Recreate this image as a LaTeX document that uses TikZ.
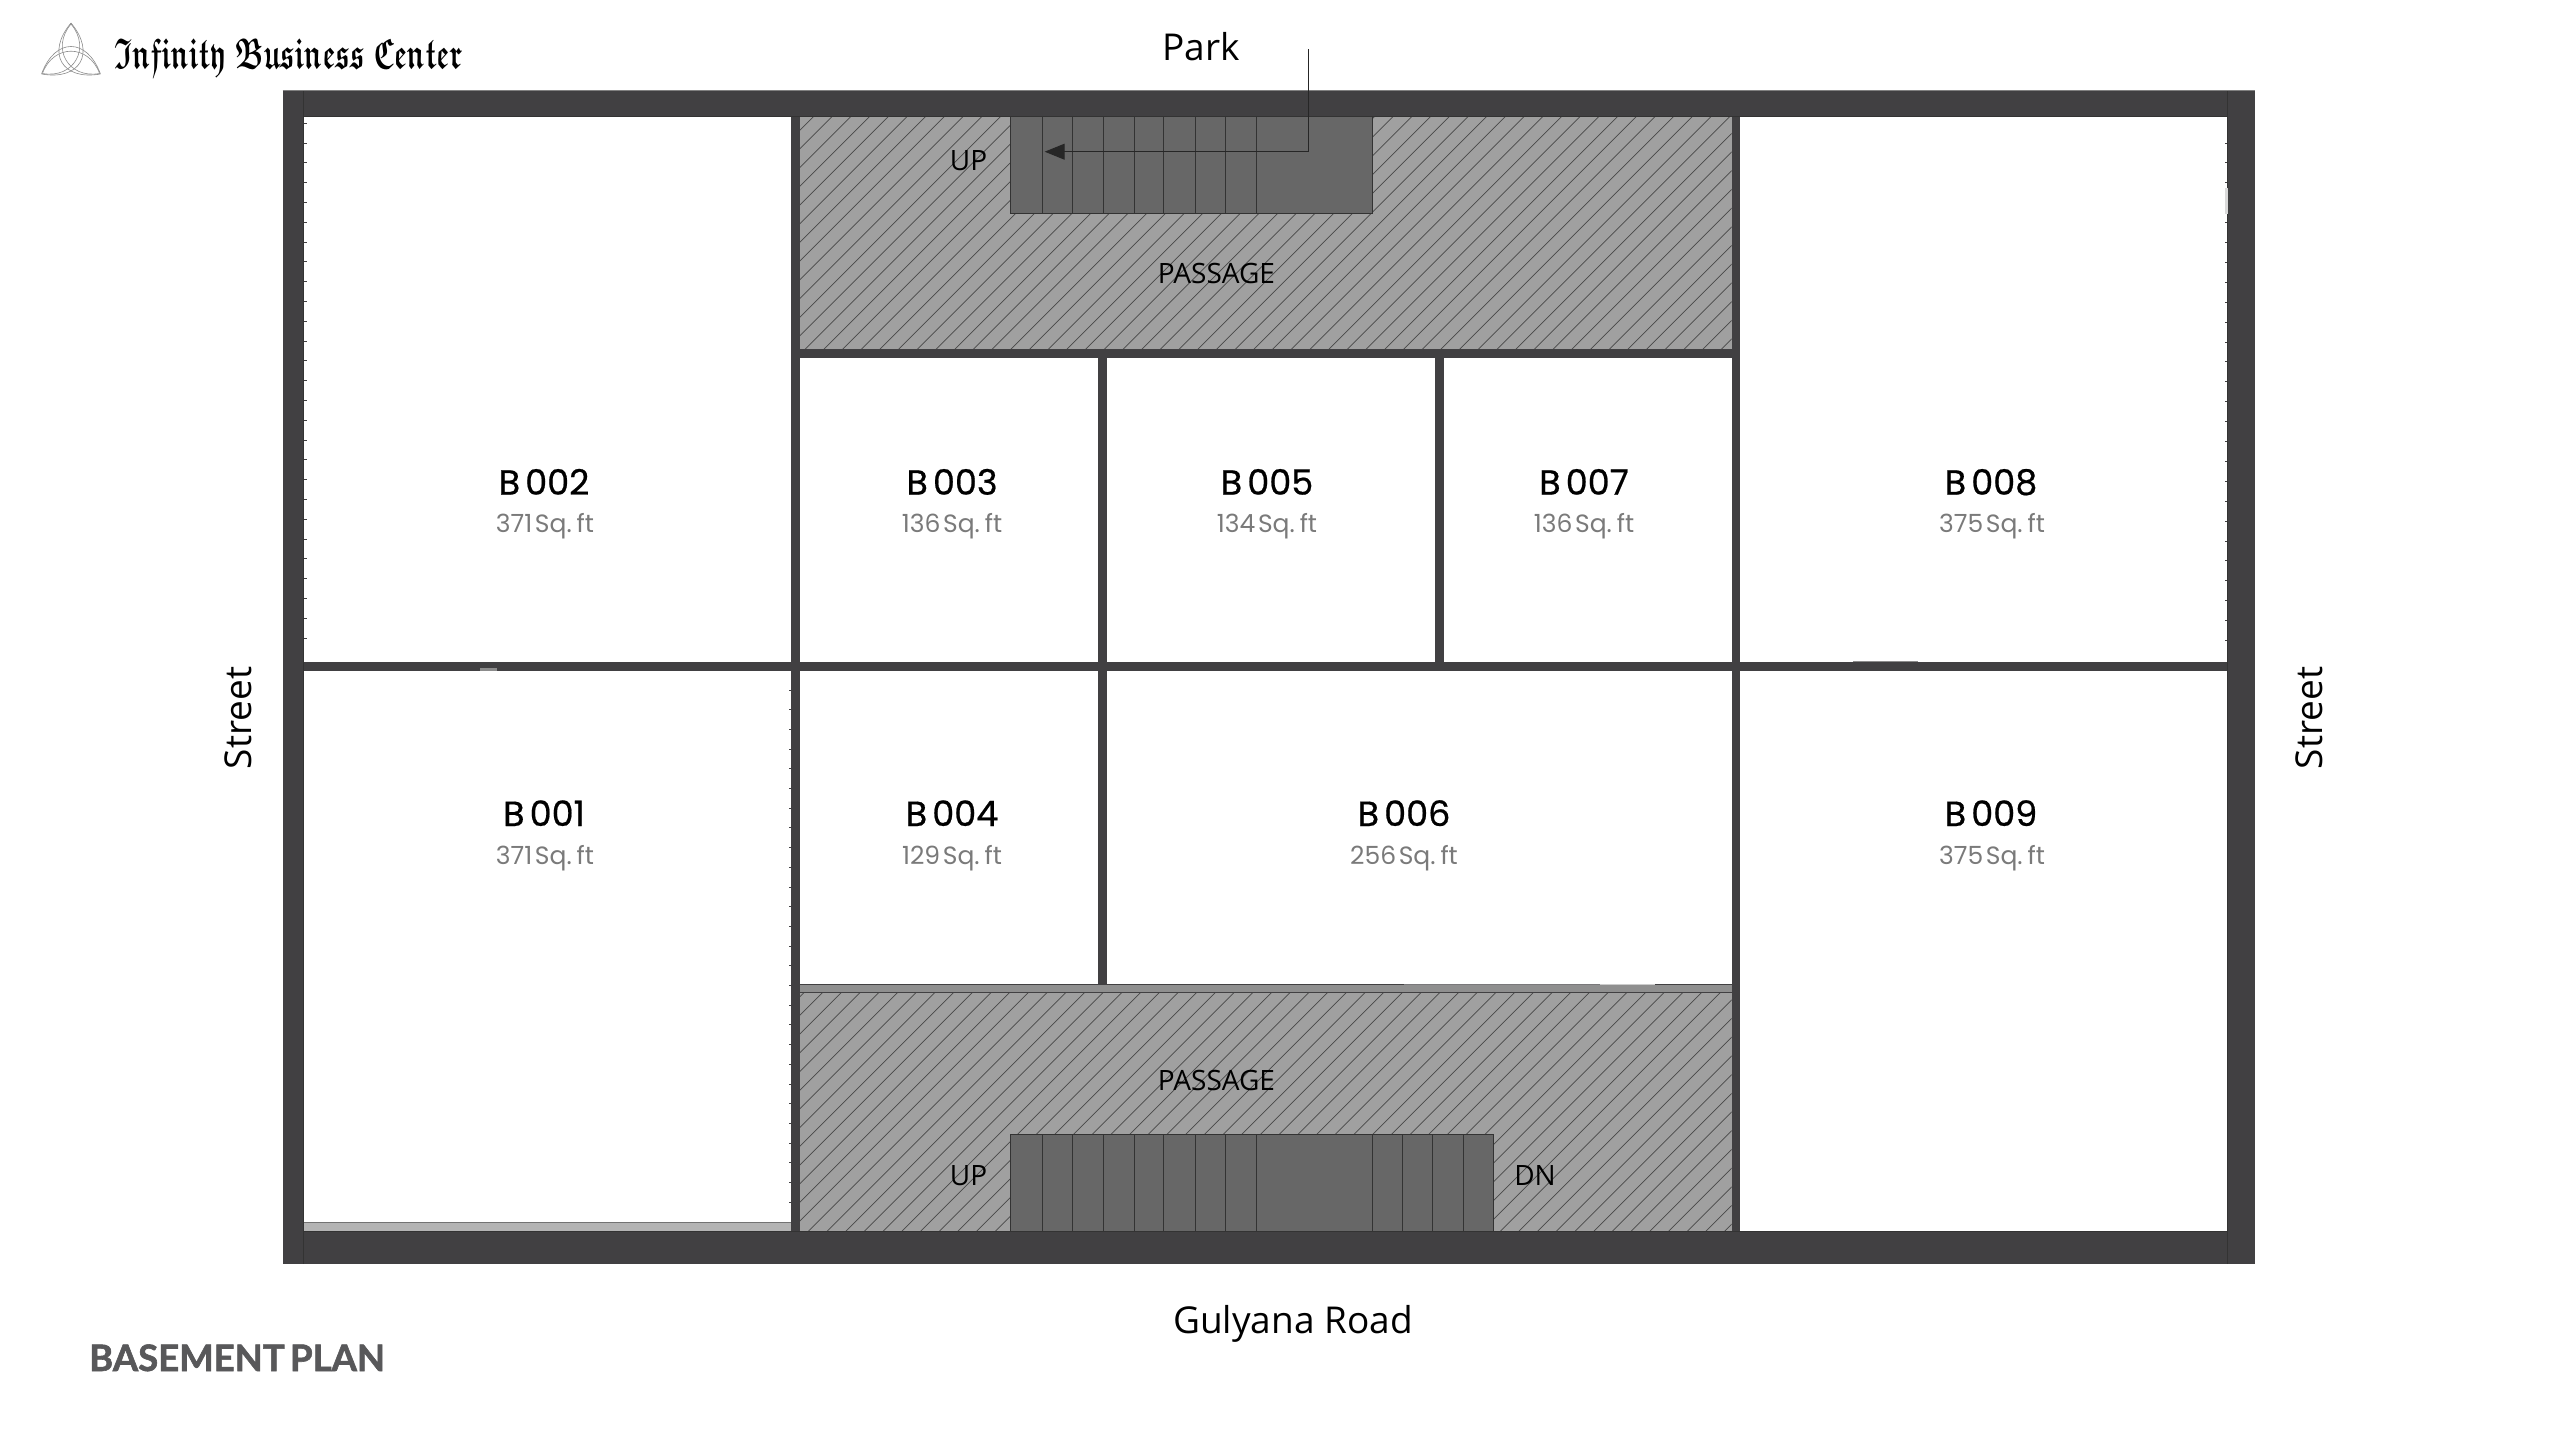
\documentclass[tikz,border=0pt]{standalone}
\usepackage{amsfonts}
\usepackage{fontspec}
\usepackage{graphicx}
\usetikzlibrary{arrows.meta}
\setmainfont{Open Sans}
\newfontfamily\roomfont[FakeBold=0.6,WordSpace=0.55]{Poppins}
\newfontfamily\areafont[WordSpace=0.4]{Poppins}
\newfontfamily\titlefont[FakeBold=1.6,WordSpace=0.6]{Lato}
\definecolor{wall}{HTML}{414042}
\definecolor{stair}{HTML}{676767}
\definecolor{passfill}{HTML}{A0A0A0}
\definecolor{hatchc}{HTML}{484848}
\definecolor{strip}{HTML}{8F8F8F}
\definecolor{lightstrip}{HTML}{B4B4B4}
\definecolor{sqft}{HTML}{7A7A7A}
\definecolor{titlec}{HTML}{58585A}
\definecolor{logoc}{HTML}{8C8C8C}
\tikzset{
  wallrect/.style={fill=wall,draw=none},
  passrect/.style={fill=passfill,draw=none},
  hatchline/.style={draw=hatchc,line width=0.7pt},
  stairrect/.style={fill=stair,draw=black!80,line width=1pt},
  treadline/.style={draw=black!80,line width=1pt},
  edgeline/.style={draw=black!80,line width=0.8pt},
  tick/.style={draw=wall,line width=0.9pt},
  roomname/.style={anchor=base,inner sep=0pt,font=\roomfont\fontsize{35}{38}\selectfont,text=black},
  roomarea/.style={anchor=base,inner sep=0pt,font=\areafont\fontsize{25}{28}\selectfont,text=sqft},
  sitelabel/.style={anchor=base,inner sep=0pt,font=\fontsize{37}{40}\selectfont,text=black},
  planlabel/.style={anchor=base,inner sep=0pt,font=\fontsize{28}{30}\selectfont,text=black},
  logoline/.style={draw=logoc,line width=0.6pt},
  leader/.style={draw=black!85,line width=1pt},
}
\begin{document}
\begin{tikzpicture}[x=1pt,y=-1pt]
\useasboundingbox (0,0) rectangle (2560,1440);
\fill[white] (0,0) rectangle (2560,1440);
% outer walls and floor
\fill[wall] (282.5,90.5) rectangle (2255,1263.5);
\fill[white] (303.5,116.7) rectangle (2227,1231);
% passages
\fill[passrect] (799.5,116.7) rectangle (1731.5,349);
\fill[passrect] (799.5,992.7) rectangle (1731.5,1231);
\begin{scope}
\clip (799.5,116.7) rectangle (1731.5,349);
\foreach \k in {-1,...,63}{
  \draw[hatchline] ({830+18.7*\k},100) -- ++(-300,300);
}
\end{scope}
\begin{scope}
\clip (799.5,992.7) rectangle (1731.5,1231);
\foreach \k in {-47,...,17}{
  \draw[hatchline] ({1676.7+18.7*\k},980) -- ++(-300,300);
}
\end{scope}
% inner walls
\fill[wallrect] (791,116.7) rectangle (799.5,1231);
\fill[wallrect] (1731.5,116.7) rectangle (1740,1231);
\fill[wallrect] (303.5,662) rectangle (2227,671);
\fill[wallrect] (799.5,349) rectangle (1731.5,358);
\fill[wallrect] (1098,358) rectangle (1106.5,662);
\fill[wallrect] (1435,358) rectangle (1444,662);
\fill[wallrect] (1098,671) rectangle (1106.5,984);
% lower passage strip
\fill[strip] (799.5,984) rectangle (1731.5,992.7);
\draw[edgeline,draw=wall] (799.5,984) -- (1404,984);
\draw[edgeline,draw=wall!70] (1404,984) -- (1600,984);
\draw[edgeline,draw=white!80!black] (1600,984) -- (1655,984);
\draw[edgeline,draw=wall] (1655,984) -- (1731.5,984);
\draw[edgeline,draw=wall] (799.5,992.7) -- (1731.5,992.7);
% strip at the foot of B 001
\fill[lightstrip] (304,1222) rectangle (791,1231);
\draw[edgeline,draw=black!55] (304,1222) -- (791,1222);
% wall edges
\draw[edgeline] (303.5,90.5) -- (303.5,1263.5);
\draw[edgeline] (2227,90.5) -- (2227,1263.5);
\draw[edgeline] (303.5,116.7) -- (2227,116.7);
\draw[edgeline] (303.5,1231) -- (2227,1231);
\draw[draw=black!50,line width=0.8pt] (282.5,90.5) -- (2255,90.5);
% small ticks along the walls
\foreach \k in {0,...,26}{\draw[tick] (304,{123.3+19.8*\k}) -- ++(2.5,0);}
\foreach \k in {0,...,25}{\draw[tick] (2227,{143+19.9*\k}) -- ++(-2.5,0);}
\foreach \k in {0,...,26}{\draw[tick] (791,{690+19.7*\k}) -- ++(-2.5,0);}
% wall details
\fill[white!85!black] (2224.5,188) rectangle (2227.5,214);
\draw[draw=black!45,line width=1pt] (1853,661.5) -- (1918,661.5);
\fill[white!55!black] (480,668) rectangle (497,671);
\draw[draw=wall,line width=0.8pt] (457,668) -- (457,671) (470,667.5) -- (498,667.5);
% stairs, top
\fill[stairrect] (1010.9,116.7) rectangle (1372.5,213.3);
\foreach \x in {1042.8,1072.7,1103.3,1134,1163.9,1195.8,1225.8,1256.4}{
  \draw[treadline] (\x,116.7) -- (\x,213.3);
}
% stairs, bottom
\fill[stairrect] (1010.9,1134) rectangle (1493,1231);
\foreach \x in {1042.8,1072.7,1103.3,1134,1163.9,1195.8,1225.8,1256.4,1372.5,1402.4,1432.4,1463}{
  \draw[treadline] (\x,1134) -- (\x,1231);
}
% leader from Park
\coordinate (leadstart) at (1308,49);
\coordinate (leadbend) at (1308,151.7);
\coordinate (leadend) at (1044.7,151.7);
\draw[leader,-{Triangle[length=20pt,width=16pt]}] (leadstart) -- (leadbend) -- (leadend);
% logo
\begin{scope}[shift={(71,57)}]
\foreach \a in {-90,30,150}{
  \draw[logoline] (\a:34) to[bend right=70,looseness=1.7] (\a+120:34);
  \draw[logoline] (\a:33) to[bend right=70,looseness=1.42] (\a+120:33);
}
\end{scope}
\node[anchor=base west,inner sep=0pt] (logotext) at (114,68) {\resizebox*{348pt}{38pt}{\boldmath$\mathfrak{Infinity}\;\mathfrak{Business}\;\mathfrak{Center}$}};
% labels
\node[sitelabel] (park) at (1201,60.7) {Park};
\node[sitelabel] (road) at (1293,1333) {Gulyana Road};
\node[sitelabel,rotate=90] (streetl) at (251,718) {Street};
\node[sitelabel,rotate=90] (streetr) at (2322,718) {Street};
\node[planlabel] (passa) at (1216.5,283) {PASSAGE};
\node[planlabel] (passb) at (1216.5,1090) {PASSAGE};
\node[planlabel] (upa) at (968.5,170) {UP};
\node[planlabel] (upb) at (968.5,1185) {UP};
\node[planlabel] (dn) at (1535,1185) {DN};
\node[anchor=base west,inner sep=0pt,font=\titlefont\bfseries\fontsize{36.5}{40}\selectfont,text=titlec] (title) at (89,1371) {BASEMENT PLAN};
% rooms
\node[roomname] (b002) at (544,494.7) {B 002};
\node[roomarea] (a002) at (545,532.6) {371 Sq. ft};
\node[roomname] (b003) at (952,494.7) {B 003};
\node[roomarea] (a003) at (952,532.6) {136 Sq. ft};
\node[roomname] (b005) at (1267,494.7) {B 005};
\node[roomarea] (a005) at (1267,532.6) {134 Sq. ft};
\node[roomname] (b007) at (1584,494.7) {B 007};
\node[roomarea] (a007) at (1584,532.6) {136 Sq. ft};
\node[roomname] (b008) at (1991,494.7) {B 008};
\node[roomarea] (a008) at (1992,532.6) {375 Sq. ft};
\node[roomname] (b001) at (544,826) {B 001};
\node[roomarea] (a001) at (545,864) {371 Sq. ft};
\node[roomname] (b004) at (952,826) {B 004};
\node[roomarea] (a004) at (952,864) {129 Sq. ft};
\node[roomname] (b006) at (1404,826) {B 006};
\node[roomarea] (a006) at (1404,864) {256 Sq. ft};
\node[roomname] (b009) at (1991,826) {B 009};
\node[roomarea] (a009) at (1992,864) {375 Sq. ft};
\end{tikzpicture}
\end{document}
